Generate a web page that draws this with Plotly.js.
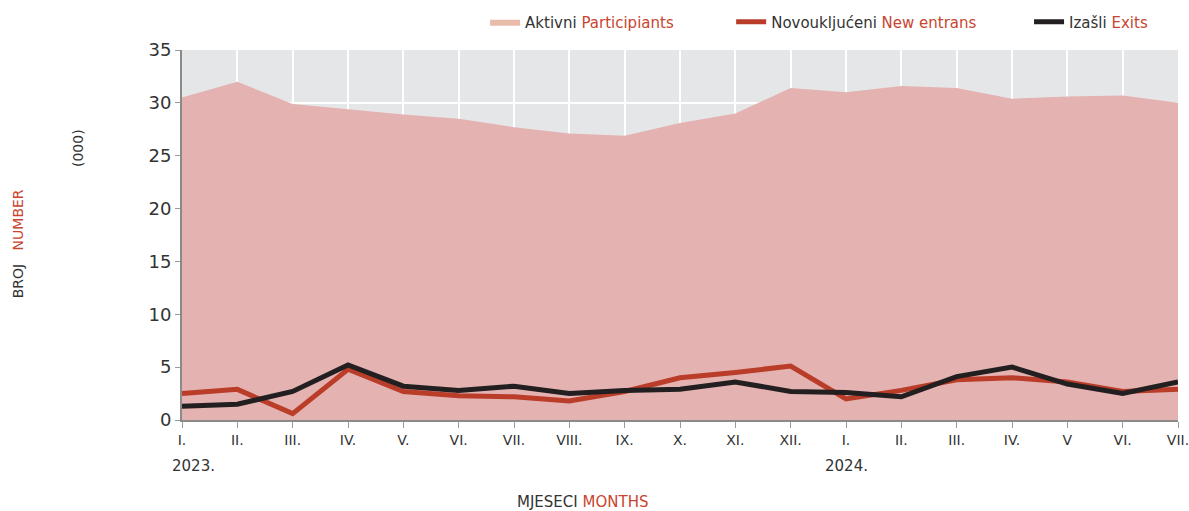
<!DOCTYPE html>
<html>
<head>
<meta charset="utf-8">
<script src="https://cdn.plot.ly/plotly-3.0.1.min.js"></script>
<style>
  html, body { margin: 0; padding: 0; background: #fff; }
  #graph { width: 1189px; height: 511px; }
</style>
</head>
<body>
<div id="graph"></div>
<script>
var months = ['I.', 'II.', 'III.', 'IV.', 'V.', 'VI.', 'VII.', 'VIII.', 'IX.', 'X.', 'XI.', 'XII.',
              'I.', 'II.', 'III.', 'IV.', 'V', 'VI.', 'VII.'];
var years = [{label: '2023.', index: 0}, {label: '2024.', index: 12}];

var participants = [30.5, 32.0, 29.9, 29.4, 28.9, 28.5, 27.7, 27.1, 26.9, 28.1, 29.0, 31.4,
                    31.0, 31.6, 31.4, 30.4, 30.6, 30.7, 30.0];
var newEntrants = [2.5, 2.9, 0.6, 4.8, 2.7, 2.3, 2.2, 1.8, 2.7, 4.0, 4.5, 5.1,
                   2.0, 2.8, 3.8, 4.0, 3.6, 2.7, 2.9];
var exits = [1.3, 1.5, 2.7, 5.2, 3.2, 2.8, 3.2, 2.5, 2.8, 2.9, 3.6, 2.7,
             2.6, 2.2, 4.1, 5.0, 3.4, 2.5, 3.6];

var red = '#c8452f';
var fontName = '"DejaVu Sans", sans-serif';
var pad = n => '\u00a0'.repeat(n);

function plot() {
    var graphDocument = document.getElementById('graph');
    var xs = months.map((m, i) => i);

    // legend entry only, for the peach swatch
    var area_legend = {
        x: [null],
        y: [null],
        name: 'Aktivni <span style="color:' + red + '">Participiants</span>' + pad(11),
        type: 'scatter',
        mode: 'lines',
        fill: 'tozeroy',
        fillcolor: '#e8bca8',
        line: {width: 0, color: '#e8bca8'},
    };

    var area_trace = {
        x: xs,
        y: participants,
        name: 'Aktivni',
        showlegend: false,
        type: 'scatter',
        mode: 'lines',
        fill: 'tozeroy',
        fillcolor: '#e3b2b1',
        line: {width: 0, color: '#e3b2b1'},
    };

    var new_trace = {
        x: xs,
        y: newEntrants,
        name: 'Novoukljućeni <span style="color:' + red + '">New entrans</span>' + pad(10),
        type: 'scatter',
        mode: 'lines',
        line: {width: 5, color: '#b93d29'},
    };

    var exit_trace = {
        x: xs,
        y: exits,
        name: 'Izašli <span style="color:' + red + '">Exits</span>',
        type: 'scatter',
        mode: 'lines',
        line: {width: 5, color: '#231f20'},
    };

    var annotations = years.map(y => ({
        x: y.index, xref: 'x',
        y: -0.125, yref: 'paper',
        text: y.label,
        showarrow: false,
        xanchor: y.index === 0 ? 'left' : 'center',
        xshift: y.index === 0 ? -12 : 0,
        yanchor: 'middle',
        font: {size: 15, color: '#333'},
    }));

    annotations.push({
        x: (582 - 182) / 996, xref: 'paper', y: -0.222, yref: 'paper',
        text: 'MJESECI <span style="color:' + red + '">MONTHS</span>',
        showarrow: false, xanchor: 'center', yanchor: 'middle',
        font: {size: 15, color: '#333'},
    });
    annotations.push({
        x: (18 - 182) / 996, xref: 'paper', xanchor: 'center',
        y: 0.475, yref: 'paper', yanchor: 'middle',
        text: 'BROJ   <span style="color:' + red + '">NUMBER</span>',
        textangle: -90, showarrow: false,
        font: {size: 14, color: '#333'},
    });
    annotations.push({
        x: (78 - 182) / 996, xref: 'paper', xanchor: 'center',
        y: 0.735, yref: 'paper', yanchor: 'middle',
        text: '(000)',
        textangle: -90, showarrow: false,
        font: {size: 14, color: '#333'},
    });

    var layout = {
        width: 1189,
        height: 511,
        margin: {l: 182, r: 11, t: 50, b: 91},
        paper_bgcolor: '#ffffff',
        plot_bgcolor: '#e5e6e8',
        font: {family: fontName, color: '#333'},
        showlegend: true,
        legend: {
            orientation: 'h',
            x: 0.975, xanchor: 'right',
            yref: 'container',
            y: 0.957, yanchor: 'middle',
            font: {size: 15, color: '#333'},
            traceorder: 'normal',
        },
        xaxis: {
            range: [0, 18],
            tickvals: xs,
            ticktext: months,
            ticklabeloverflow: 'allow',
            showgrid: true,
            gridcolor: '#ffffff',
            gridwidth: 2,
            zeroline: false,
            showline: true,
            linecolor: '#8a8a8a',
            linewidth: 2,
            ticks: 'outside',
            ticklen: 6,
            tickcolor: '#9a9a9a',
            tickfont: {size: 14, color: '#333'},
        },
        yaxis: {
            range: [0, 35],
            dtick: 5,
            showgrid: true,
            gridcolor: '#ffffff',
            gridwidth: 2,
            zeroline: false,
            showline: true,
            linecolor: '#8a8a8a',
            linewidth: 2,
            ticks: 'outside',
            ticklen: 5,
            tickcolor: '#9a9a9a',
            tickfont: {size: 18, color: '#333'},
        },
        annotations: annotations,
    };

    Plotly.newPlot(graphDocument, [area_legend, area_trace, new_trace, exit_trace], layout, {displayModeBar: false});
}

plot();
</script>
</body>
</html>
